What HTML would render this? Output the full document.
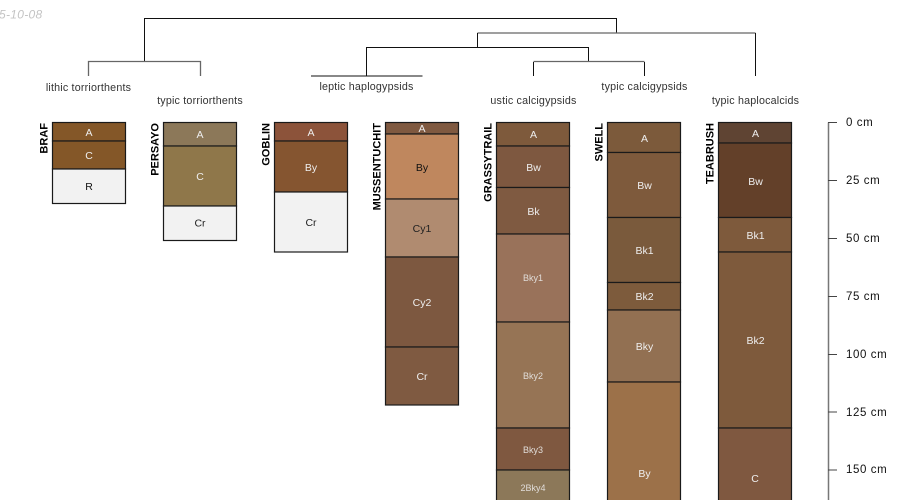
<!DOCTYPE html>
<html>
<head>
<meta charset="utf-8">
<style>
html,body{margin:0;padding:0;background:#fff;width:900px;height:500px;overflow:hidden}
svg{display:block}
text{font-family:"Liberation Sans",sans-serif}
.l{font-size:10.7px;fill:#333;text-anchor:middle;letter-spacing:.2px}
.n{font-size:11px;font-weight:bold;fill:#000;text-anchor:end}
.h{font-size:10.5px;text-anchor:middle}
.hs{font-size:9px;text-anchor:middle}
.d{font-size:11.5px;fill:#111;letter-spacing:.6px}
.p{fill:none;stroke:#111;stroke-width:1}
.g{fill:none;stroke:#666;stroke-width:1.3}
.r{stroke:#1a1a1a;stroke-width:1.2}
</style>
</head>
<body>
<svg width="900" height="500" viewBox="0 0 900 500" xmlns="http://www.w3.org/2000/svg">
<text x="-1" y="18.500" font-size="12" font-style="italic" fill="#c4c4c4" letter-spacing=".3">5-10-08</text>

<!-- dendrogram -->
<path class="p" d="M144.500 62V18.500H616.500V33"/>
<path class="g" d="M88.500 76V61.500H200.500V76"/>
<path class="g" d="M477.500 33H755.500"/>
<path class="p" d="M755.500 33V76"/>
<path class="p" d="M477.500 33V47.500M366.500 76V47.500H588.500V62"/>
<path class="p" d="M311 76H422.500"/>
<path class="g" d="M533.500 61.500H644.500"/>
<path class="p" d="M533.500 62V76M644.500 62V76"/>

<text class="l" x="88.500" y="91">lithic torriorthents</text>
<text class="l" x="200" y="104">typic torriorthents</text>
<text class="l" x="366.500" y="90">leptic haplogypsids</text>
<text class="l" x="533.500" y="104">ustic calcigypsids</text>
<text class="l" x="644.500" y="90">typic calcigypsids</text>
<text class="l" x="755.500" y="104">typic haplocalcids</text>

<!-- BRAF -->
<g class="r">
<rect x="52.500" y="122.500" width="73" height="18.500" fill="#845728"/>
<rect x="52.500" y="141" width="73" height="28" fill="#845728"/>
<rect x="52.500" y="169" width="73" height="34.500" fill="#f2f2f2"/>
</g>
<text class="h" x="89" y="136" fill="#eee">A</text>
<text class="h" x="89" y="159" fill="#eee">C</text>
<text class="h" x="89" y="190" fill="#111">R</text>
<text class="n" transform="translate(47.500,123) rotate(-90)">BRAF</text>

<!-- PERSAYO -->
<g class="r">
<rect x="163.500" y="122.500" width="73" height="23.500" fill="#8c7859"/>
<rect x="163.500" y="146" width="73" height="60" fill="#8f774a"/>
<rect x="163.500" y="206" width="73" height="34.500" fill="#f2f2f2"/>
</g>
<text class="h" x="200" y="138" fill="#eee">A</text>
<text class="h" x="200" y="180" fill="#eee">C</text>
<text class="h" x="200" y="226.500" fill="#222">Cr</text>
<text class="n" transform="translate(158.500,123) rotate(-90)">PERSAYO</text>

<!-- GOBLIN -->
<g class="r">
<rect x="274.500" y="122.500" width="73" height="18.500" fill="#8c533a"/>
<rect x="274.500" y="141" width="73" height="51" fill="#855530"/>
<rect x="274.500" y="192" width="73" height="60" fill="#f2f2f2"/>
</g>
<text class="h" x="311" y="136" fill="#eee">A</text>
<text class="h" x="311" y="171" fill="#eee">By</text>
<text class="h" x="311" y="226" fill="#222">Cr</text>
<text class="n" transform="translate(269.500,123) rotate(-90)">GOBLIN</text>

<!-- MUSSENTUCHIT -->
<g class="r">
<rect x="385.500" y="122.500" width="73" height="11.500" fill="#7f5940"/>
<rect x="385.500" y="134" width="73" height="65" fill="#bf875e"/>
<rect x="385.500" y="199" width="73" height="58" fill="#b08b70"/>
<rect x="385.500" y="257" width="73" height="90" fill="#7d5840"/>
<rect x="385.500" y="347" width="73" height="58" fill="#7f5a41"/>
</g>
<text class="h" x="422" y="132" fill="#eee">A</text>
<text class="h" x="422" y="171" fill="#111">By</text>
<text class="h" x="422" y="232" fill="#222">Cy1</text>
<text class="h" x="422" y="306" fill="#eee">Cy2</text>
<text class="h" x="422" y="380" fill="#eee">Cr</text>
<text class="n" transform="translate(380.500,123) rotate(-90)">MUSSENTUCHIT</text>

<!-- GRASSYTRAIL -->
<g class="r">
<rect x="496.500" y="122.500" width="73" height="23.500" fill="#7e5a3c"/>
<rect x="496.500" y="146" width="73" height="41.500" fill="#7e5840"/>
<rect x="496.500" y="187.500" width="73" height="46.500" fill="#7f5a41"/>
<rect x="496.500" y="234" width="73" height="88" fill="#99725a"/>
<rect x="496.500" y="322" width="73" height="106" fill="#967455"/>
<rect x="496.500" y="428" width="73" height="42" fill="#7f5840"/>
<rect x="496.500" y="470" width="73" height="40" fill="#8c7859"/>
</g>
<text class="h" x="533.500" y="138" fill="#eee">A</text>
<text class="h" x="533.500" y="171" fill="#eee">Bw</text>
<text class="h" x="533.500" y="215" fill="#eee">Bk</text>
<text class="hs" x="533" y="281" fill="#e0dcd8">Bky1</text>
<text class="hs" x="533" y="379" fill="#e0dcd8">Bky2</text>
<text class="hs" x="533" y="453" fill="#e0dcd8">Bky3</text>
<text class="hs" x="533" y="491" fill="#e0dcd8">2Bky4</text>
<text class="n" transform="translate(491.500,123) rotate(-90)">GRASSYTRAIL</text>

<!-- SWELL -->
<g class="r">
<rect x="607.500" y="122.500" width="73" height="30" fill="#7c5a3b"/>
<rect x="607.500" y="152.500" width="73" height="65" fill="#7e5a3c"/>
<rect x="607.500" y="217.500" width="73" height="65" fill="#7a5a3c"/>
<rect x="607.500" y="282.500" width="73" height="27.500" fill="#7d5b3c"/>
<rect x="607.500" y="310" width="73" height="72" fill="#927052"/>
<rect x="607.500" y="382" width="73" height="128" fill="#9c7149"/>
</g>
<text class="h" x="644.500" y="142" fill="#eee">A</text>
<text class="h" x="644.500" y="189" fill="#eee">Bw</text>
<text class="h" x="644.500" y="254" fill="#eee">Bk1</text>
<text class="h" x="644.500" y="300" fill="#eee">Bk2</text>
<text class="h" x="644.500" y="350" fill="#eee">Bky</text>
<text class="h" x="644.500" y="477" fill="#eee">By</text>
<text class="n" transform="translate(602.500,123) rotate(-90)">SWELL</text>

<!-- TEABRUSH -->
<g class="r">
<rect x="718.500" y="122.500" width="73" height="20.500" fill="#5f4433"/>
<rect x="718.500" y="143" width="73" height="74.500" fill="#634029"/>
<rect x="718.500" y="217.500" width="73" height="34.500" fill="#7e5a3c"/>
<rect x="718.500" y="252" width="73" height="176" fill="#7e5a3c"/>
<rect x="718.500" y="428" width="73" height="82" fill="#7f5840"/>
</g>
<text class="h" x="755.500" y="137" fill="#eee">A</text>
<text class="h" x="755.500" y="185" fill="#eee">Bw</text>
<text class="h" x="755.500" y="239" fill="#eee">Bk1</text>
<text class="h" x="755.500" y="344" fill="#eee">Bk2</text>
<text class="h" x="755" y="482" fill="#eee">C</text>
<text class="n" transform="translate(713.500,123) rotate(-90)">TEABRUSH</text>

<!-- depth scale -->
<path d="M828.500 122.500V500" fill="none" stroke="#777" stroke-width="1.500"/>
<path d="M828 122.500H837M828 180.500H837M828 238.500H837M828 296.500H837M828 354.500H837M828 412H837M828 470H837" fill="none" stroke="#444" stroke-width="1"/>
<text class="d" x="846" y="126">0 cm</text>
<text class="d" x="846" y="184">25 cm</text>
<text class="d" x="846" y="242">50 cm</text>
<text class="d" x="846" y="300">75 cm</text>
<text class="d" x="846" y="358">100 cm</text>
<text class="d" x="846" y="416">125 cm</text>
<text class="d" x="846" y="473">150 cm</text>
</svg>
</body>
</html>
